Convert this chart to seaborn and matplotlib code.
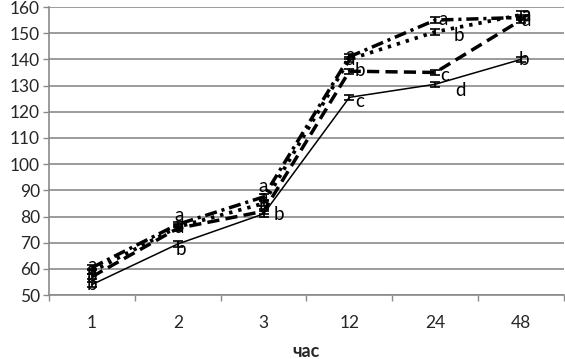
import matplotlib
matplotlib.use("Agg")
import matplotlib.pyplot as plt
import seaborn as sns
import pandas as pd
import numpy as np
from matplotlib.ticker import FixedLocator

sns.set_theme(style="white")
plt.rcParams['font.family'] = ['Lato', 'DejaVu Sans']

hours = ["1", "2", "3", "12", "24", "48"]
series_names = ["A", "B", "C", "D"]
vals_A = [54, 69.5, 81, 125.5, 130.5, 140]
vals_B = [57, 75.5, 82, 135.5, 135, 155]
vals_C = [60.5, 77, 87.5, 141, 155, 156]
vals_D = [59, 76, 85, 140, 150.5, 157]
err_A = [1, 1, 1, 1, 1, 1]
err_B = [1, 1, 1, 1, 1, 1]
err_C = [1, 1, 1, 1, 1.2, 1]
err_D = [1, 1, 1, 1, 1.2, 1.5]
letters_A = ["b", "b", "b", "c", "d", "b"]
letters_B = ["b", "a", "b", "b", "c", "a"]
letters_C = ["a", "a", "a", "a", "a", "a"]
letters_D = ["a", "a", "a", "a", "b", "a"]

values = {"A": vals_A, "B": vals_B, "C": vals_C, "D": vals_D}
errs = {"A": err_A, "B": err_B, "C": err_C, "D": err_D}
letters = {"A": letters_A, "B": letters_B, "C": letters_C, "D": letters_D}

# label offsets in pixels (style only)
offsets = {
    "A": [(-5, 0), (-2, -5), (10, -1), (6, -4), (20, -6), (-2, 0)],
    "B": [(-5, 1), (-3, 1), (-5, 5), (5, 1), (5, -3), (0, 0)],
    "C": [(-5, 2), (-3, 9), (-5, 10), (-4, 1), (3, 1), (0, 2)],
    "D": [(-5, 2), (-3, 3), (-5, 6), (-4, 0), (18, -4), (0, 0)],
}

df = pd.DataFrame({
    "hour": hours * 4,
    "value": vals_A + vals_B + vals_C + vals_D,
    "series": sum([[s] * len(hours) for s in series_names], []),
})

fig = plt.figure(figsize=(5.65, 3.59), dpi=100)
ax = fig.add_axes([0.0867, 0.178, 0.9115, 0.8025])

dashes = {"A": "", "B": (3.5, 1.8), "C": (3.5, 1.4, 0.9, 1.4), "D": (0.9, 1.6)}
sizes = {"A": 1.1, "B": 2.5, "C": 2.5, "D": 2.7}
sns.lineplot(data=df, x="hour", y="value", hue="series", style="series",
             size="series", sizes=sizes, dashes=dashes,
             palette=["black"] * 4, legend=False, ax=ax, sort=False)

xpos = np.arange(len(hours))
for s in series_names:
    ax.errorbar(xpos, values[s], yerr=errs[s], fmt="none", ecolor="black",
                elinewidth=1.2, capsize=3.5, capthick=1.2, zorder=5)

for s in series_names:
    for i, (v, L) in enumerate(zip(values[s], letters[s])):
        dx, dy = offsets[s][i]
        ax.annotate(L, (xpos[i], v), xytext=(dx * 0.72, dy * 0.72),
                    textcoords="offset points", ha="left", va="center",
                    fontsize=13.5, color="black", zorder=6)

ax.set_xlim(-0.5, 5.5)
ax.set_ylim(50, 160)
ax.set_yticks(np.arange(50, 161, 10))
ax.yaxis.grid(True, color="#8a8a8a", linewidth=1.2)
ax.set_axisbelow(True)
ax.xaxis.set_minor_locator(FixedLocator(np.arange(-0.5, 6, 1)))
ax.tick_params(axis="x", which="major", length=0, pad=14, labelsize=12.5)
ax.tick_params(axis="x", which="minor", length=4, width=1, color="#8a8a8a", direction="out", bottom=True)
ax.tick_params(axis="y", length=4.5, width=1, color="#8a8a8a", direction="out", left=True, pad=2, labelsize=12.5)
for side in ["top", "right"]:
    ax.spines[side].set_visible(False)
for side in ["left", "bottom"]:
    ax.spines[side].set_color("#8a8a8a")
    ax.spines[side].set_linewidth(1.2)
ax.set_ylabel("")
ax.set_xlabel("час", fontsize=13, fontweight="bold", labelpad=9)

fig.savefig("out.png", dpi=100)
